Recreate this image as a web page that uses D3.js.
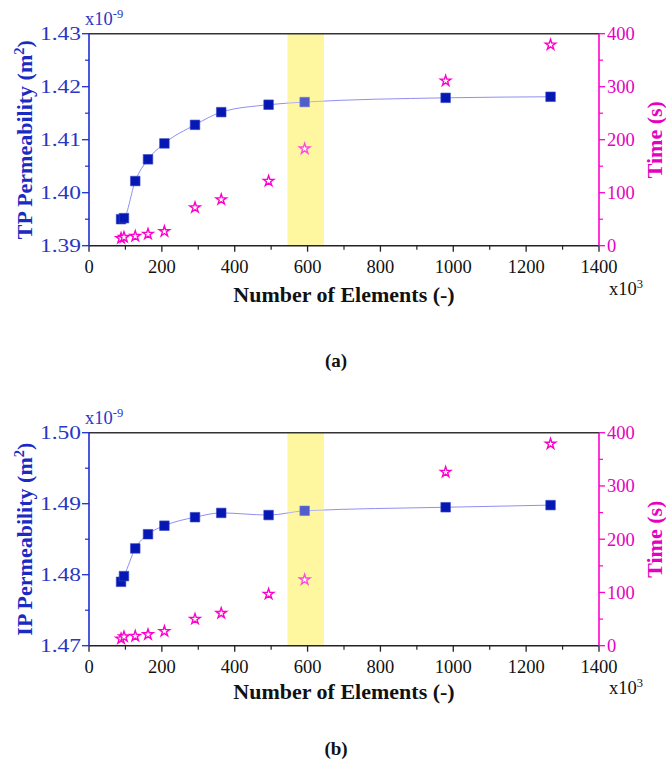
<!DOCTYPE html>
<html><head><meta charset="utf-8">
<script src="https://cdn.jsdelivr.net/npm/d3@7"></script>
<style>body{margin:0;background:#fff} svg{display:block} text{font-family:"Liberation Serif","Times New Roman",Times,serif;}</style>
</head><body><svg id="c" width="666" height="767"></svg>
<script>
// ---- data (x in thousands of elements) ----
const elements = [88, 96, 127, 162, 207, 291, 363, 493, 592, 979, 1267];
const tpPerm = [1.3950, 1.3952, 1.4022, 1.4063, 1.4093, 1.4128, 1.4152, 1.4166, 1.4171, 1.4179, 1.4181];
const tpTime = [14, 16, 18, 22, 27, 72, 87, 122, 183, 311, 379];
const ipPerm = [1.4790, 1.4798, 1.4837, 1.4857, 1.4869, 1.4881, 1.4887, 1.4884, 1.4890, 1.4895, 1.4898];
const ipTime = [13, 17, 18, 21, 27, 50, 61, 97, 124, 326, 379];
const xTicks = [0, 200, 400, 600, 800, 1000, 1200, 1400];
const xMinor = [100, 300, 500, 700, 900, 1100, 1300];
const timeTicks = [0, 100, 200, 300, 400];
const timeMinor = [50, 150, 250, 350];
const tpTicks = [1.39, 1.40, 1.41, 1.42, 1.43];
const tpMinor = [1.395, 1.405, 1.415, 1.425];
const ipTicks = [1.47, 1.48, 1.49, 1.50];
const ipMinor = [1.475, 1.485, 1.495];
const bandRange = [545, 645];

const BLUE = "#1f2fd0", BLUE_TXT = "#2a36c4", SQ = "#0518b4", LINE = "#8f8ff2", MAG = "#ff00cc", MAG_TXT = "#e600c0";

const svg = d3.select("#c");

const panels = [
  {top: 33.7, bottom: 245.7, perm: tpPerm, time: tpTime, ticks: tpTicks, minor: tpMinor,
   dom: [1.39, 1.43], yTitle: "TP Permeability (m", label: "(a)", labelY: 367, titleOff: 56, expOff: 49},
  {top: 432.7, bottom: 645.7, perm: ipPerm, time: ipTime, ticks: ipTicks, minor: ipMinor,
   dom: [1.47, 1.50], yTitle: "IP Permeability (m", label: "(b)", labelY: 755, titleOff: 53, expOff: 48}
];

const L = 89, R = 599;

panels.forEach(p => {
  const g = svg.append("g");
  const x = d3.scaleLinear().domain([0, 1400]).range([L, R]);
  const y = d3.scaleLinear().domain(p.dom).range([p.bottom, p.top]);
  const yt = d3.scaleLinear().domain([0, 400]).range([p.bottom, p.top]);

  // band
  g.append("rect").attr("x", x(bandRange[0])).attr("y", p.top)
    .attr("width", x(bandRange[1]) - x(bandRange[0])).attr("height", p.bottom - p.top)
    .attr("fill", "rgb(255,244,119)");

  // line
  const pts = elements.map((e, i) => [e, p.perm[i]]);
  g.append("path").datum(pts)
    .attr("d", d3.line().x(d => x(d[0])).y(d => y(d[1])).curve(d3.curveMonotoneX))
    .attr("fill", "none").attr("stroke", LINE).attr("stroke-width", 1);

  // squares
  g.selectAll(".sq").data(pts).enter().append("path")
    .attr("transform", d => `translate(${x(d[0])},${y(d[1])})`)
    .attr("d", d3.symbol(d3.symbolSquare, 92)())
    .attr("fill", SQ).attr("stroke", "#3a48c8").attr("stroke-width", 0.6);

  // stars
  const tpts = elements.map((e, i) => [e, p.time[i]]);
  g.selectAll(".st").data(tpts).enter().append("path")
    .attr("transform", d => `translate(${x(d[0])},${yt(d[1])})`)
    .attr("d", d3.symbol(d3.symbolStar, 34)())
    .attr("fill", "#fff").attr("stroke", MAG).attr("stroke-width", 1.4);

  // band light overlay
  g.append("rect").attr("x", x(bandRange[0])).attr("y", p.top)
    .attr("width", x(bandRange[1]) - x(bandRange[0])).attr("height", p.bottom - p.top)
    .attr("fill", "#fff").attr("opacity", 0.3);

  // top border
  g.append("line").attr("x1", L).attr("x2", R).attr("y1", p.top).attr("y2", p.top)
    .attr("stroke", "#333").attr("stroke-width", 1.6);

  // bottom axis
  g.append("line").attr("x1", L).attr("x2", R).attr("y1", p.bottom).attr("y2", p.bottom)
    .attr("stroke", "#222").attr("stroke-width", 1.6);
  xTicks.forEach(t => {
    g.append("line").attr("x1", x(t)).attr("x2", x(t)).attr("y1", p.bottom).attr("y2", p.bottom + 6)
      .attr("stroke", "#222").attr("stroke-width", 1.3);
    g.append("text").attr("x", x(t)).attr("y", p.bottom + 27).attr("text-anchor", "middle")
      .attr("font-size", 18.5).attr("fill", "#111").text(t);
  });
  xMinor.forEach(t => {
    g.append("line").attr("x1", x(t)).attr("x2", x(t)).attr("y1", p.bottom).attr("y2", p.bottom + 4)
      .attr("stroke", "#222").attr("stroke-width", 1.2);
  });
  const xm = g.append("text").attr("x", 609).attr("y", p.bottom + p.expOff).attr("font-size", 18.5).attr("fill", "#111");
  xm.append("tspan").text("x10");
  xm.append("tspan").attr("dy", -7).attr("font-size", 12.5).text("3");

  g.append("text").attr("x", (L + R) / 2).attr("y", p.bottom + p.titleOff).attr("text-anchor", "middle")
    .attr("font-size", 22).attr("font-weight", "bold").attr("fill", "#111").text("Number of Elements (-)");

  // left axis
  g.append("line").attr("x1", L).attr("x2", L).attr("y1", p.top).attr("y2", p.bottom)
    .attr("stroke", BLUE).attr("stroke-width", 1.6);
  p.ticks.forEach(t => {
    g.append("line").attr("x1", L - 7).attr("x2", L).attr("y1", y(t)).attr("y2", y(t))
      .attr("stroke", BLUE).attr("stroke-width", 1.3);
    g.append("text").attr("x", 81).attr("y", y(t)).attr("dy", "0.35em").attr("text-anchor", "end")
      .attr("font-size", 18.5).attr("fill", BLUE_TXT)
      .attr("textLength", 41).attr("lengthAdjust", "spacingAndGlyphs")
      .text(d3.format(".2f")(t));
  });
  p.minor.forEach(t => {
    g.append("line").attr("x1", L - 4).attr("x2", L).attr("y1", y(t)).attr("y2", y(t))
      .attr("stroke", BLUE).attr("stroke-width", 1.2);
  });
  const ym = g.append("text").attr("x", 85).attr("y", p.top - 9).attr("font-size", 18.5).attr("fill", BLUE_TXT);
  ym.append("tspan").text("x10");
  ym.append("tspan").attr("dy", -7).attr("font-size", 12.5).text("-9");

  const yl = g.append("text").attr("transform", `translate(32,${(p.top + p.bottom) / 2}) rotate(-90)`)
    .attr("text-anchor", "middle").attr("font-size", 22).attr("font-weight", "bold").attr("fill", "#1a2bc4");
  yl.append("tspan").text(p.yTitle);
  yl.append("tspan").attr("dy", -8).attr("font-size", 14.5).text("2");
  yl.append("tspan").attr("dy", 8).text(")");

  // right axis
  g.append("line").attr("x1", R).attr("x2", R).attr("y1", p.top).attr("y2", p.bottom)
    .attr("stroke", MAG).attr("stroke-width", 1.6);
  timeTicks.forEach(t => {
    g.append("line").attr("x1", R).attr("x2", R + 6).attr("y1", yt(t)).attr("y2", yt(t))
      .attr("stroke", MAG).attr("stroke-width", 1.3);
    g.append("text").attr("x", 607).attr("y", yt(t)).attr("dy", "0.35em")
      .attr("font-size", 18.5).attr("fill", MAG_TXT).text(t);
  });
  timeMinor.forEach(t => {
    g.append("line").attr("x1", R).attr("x2", R + 4).attr("y1", yt(t)).attr("y2", yt(t))
      .attr("stroke", MAG).attr("stroke-width", 1.2);
  });
  g.append("text").attr("transform", `translate(662,${(p.top + p.bottom) / 2}) rotate(-90)`)
    .attr("text-anchor", "middle").attr("font-size", 22).attr("font-weight", "bold").attr("fill", MAG_TXT)
    .text("Time (s)");

  // panel label
  g.append("text").attr("x", 336).attr("y", p.labelY).attr("text-anchor", "middle")
    .attr("font-size", 19).attr("font-weight", "bold").attr("fill", "#111").text(p.label);
});
</script></body></html>
